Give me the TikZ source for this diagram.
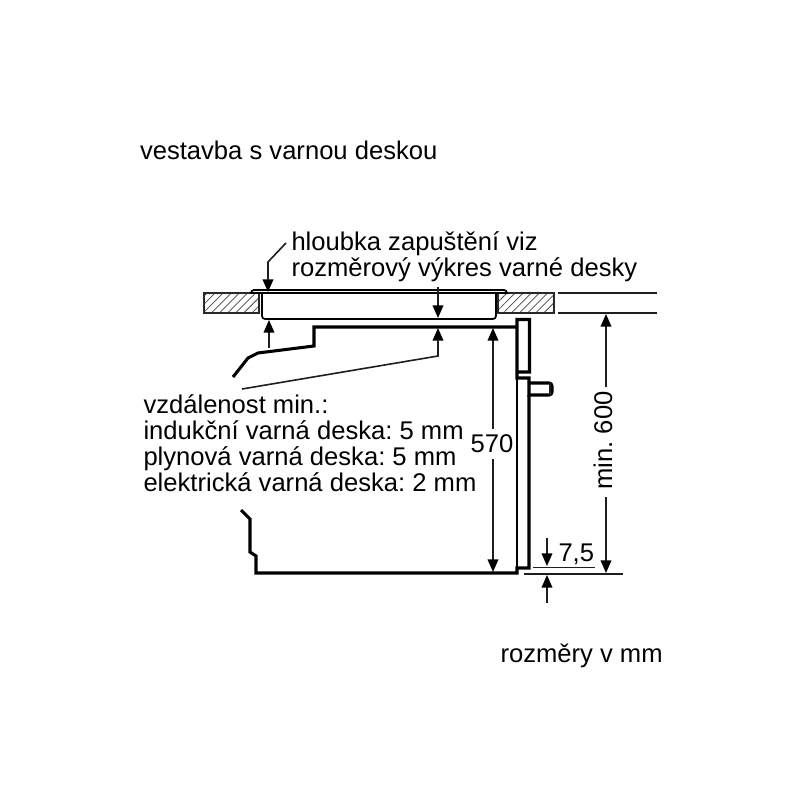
\documentclass[tikz,border=0pt]{standalone}
\usepackage{fontspec}
\setmainfont{Liberation Sans}
\usetikzlibrary{patterns.meta,arrows.meta}
\tikzset{every picture/.style={line width=0.75pt}}
\tikzset{
  thickline/.style={line width=2.3pt,line join=miter},
  hobline/.style={line width=1.3pt},
  thinline/.style={line width=1.2pt,color={rgb,255:red,30;green,30;blue,30}},
  hatch/.style={line width=1.1pt,color={rgb,255:red,40;green,40;blue,40},pattern={Lines[angle=45,distance=4.3pt,line width=0.55pt]},pattern color={rgb,255:red,70;green,70;blue,70}},
  dimline/.style={line width=1.2pt,color={rgb,255:red,30;green,30;blue,30},-{Triangle[length=9.5pt,width=8pt,color=black]}},
  label/.style={anchor=west,inner sep=0pt,font=\fontsize{19.2pt}{19.5pt}\selectfont\frenchspacing,align=left},
}

\begin{document}
\begin{tikzpicture}[x=0.75pt,y=0.75pt,yscale=-1,xscale=1]
  \path[use as bounding box,fill=white] (0,0) rectangle (800,800);

  %Worktop left and right
  \draw [hatch] (204,293) rectangle (259,313);
  \draw [hatch] (498,293) rectangle (554,313);
  %Hob
  \draw [hobline] (251,293) to[out=-90,in=180] (254,290) -- (504,290) to[out=0,in=-90] (507,293) -- cycle;
  \draw [hobline] (262,293) -- (262,316) to[out=90,in=180] (265,319) -- (493,319) to[out=0,in=90] (496,316) -- (496,293);
  %Oven
  \draw [thickline] (233,377) -- (248,358) -- (258,353) -- (314,346) -- (314,327) -- (517,327);
  \draw [thickline] (241,510) -- (250,519) -- (250,552) -- (256,556) -- (256,573) -- (517,573) -- (517,568) -- (529,568) -- (529,395);
  \draw [thickline] (517,372) -- (517,319.5) -- (529.5,319.5) -- (529.5,372) -- (517,372) -- (517,378) -- (529,378) -- (529,395) -- (549,395) to[out=0,in=90] (552,392) -- (552,386) to[out=-90,in=0] (549,383) -- (529,383);
  \draw [hobline] (517,378) -- (517,568);
  \draw [thinline] (550,383) -- (550,395);
  %Extension lines
  \draw [thinline] (558,293) -- (657,293);
  \draw [thinline] (558,313) -- (657,313);
  \draw [thinline] (533,567.5) -- (595,567.5);
  \draw [thinline] (524,574) -- (623,574);

  %Dimension arrows
  \coordinate (leaderA) at (286,243);
  \coordinate (leaderB) at (268,262);
  \draw [dimline] (leaderA) -- (leaderB) -- (268,292);
  \draw [dimline] (269,348) -- (269,320);
  \draw [dimline] (438,287) -- (438,318);
  \draw [dimline] (242,389) -- (438,356) -- (438,328);
  \draw [dimline] (493,429) -- (493,328);
  \draw [dimline] (493,459) -- (493,572);
  \draw [dimline] (606,387) -- (606,314);
  \draw [dimline] (606,497) -- (606,573);
  \draw [dimline] (547,538) -- (547,566);
  \draw [dimline] (547,603) -- (547,575);

  % Text Node
  \node (title) [label] at (139.5,150) {vestavba s varnou deskou};
  % Text Node
  \node (depth) [label] at (291,257) {hloubka zapuštění viz\\rozměrový výkres varné desky};
  % Text Node
  \node (gap) [label] at (143,443) {vzdálenost min.:\\indukční varná deska: 5 mm\\plynová varná deska: 5 mm\\elektrická varná deska: 2 mm};
  % Text Node
  \node (h570) [label,anchor=center] at (492,444) {570};
  % Text Node
  \node (h600) [label,anchor=center,rotate=90] at (603,440.5) {min. 600};
  % Text Node
  \node (h75) [label] at (558,554) {7,5};
  % Text Node
  \node (units) [label] at (500,656) {rozměry v mm};
\end{tikzpicture}
\end{document}
